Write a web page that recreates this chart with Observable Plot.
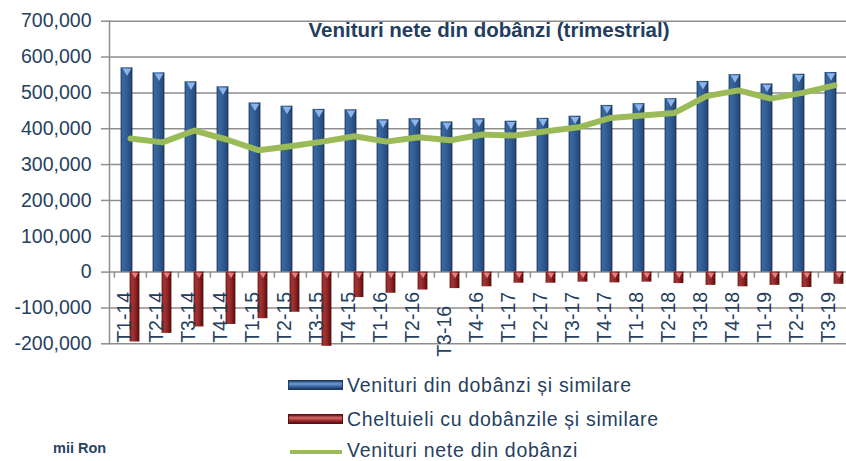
<!DOCTYPE html>
<html>
<head>
<meta charset="utf-8">
<script src="https://cdn.jsdelivr.net/npm/d3@7"></script>
<script src="https://cdn.jsdelivr.net/npm/@observablehq/plot@0.6"></script>
<style>
  html, body { margin: 0; padding: 0; background: #fff; overflow: hidden; }
  #wrap { position: relative; width: 846px; height: 461px; font-family: "Liberation Sans", Arial, sans-serif; color: #263f5f; }
  #chart { position: absolute; left: 0; top: 0; }
  .lg-row { position: absolute; left: 288px; height: 20px; }
  .sw { position: absolute; left: 0; width: 55px; }
  .lg-text { position: absolute; left: 59px; white-space: nowrap; font-size: 19.5px; line-height: 1; letter-spacing: 0.7px; color: #263f5f; }
  #unit { position: absolute; left: 53px; top: 441px; font-size: 14.5px; font-weight: bold; line-height: 1; color: #2a4364; }
</style>
</head>
<body>
<div id="wrap">
  <div id="chart"></div>
  <div class="lg-row" style="top:376px">
    <div class="sw" style="top:4px;height:10px;background:linear-gradient(to bottom,#24466f 0%,#6f9ad3 35%,#3f6ca5 65%,#1b3860 100%);border:1px solid #1d3a60;box-sizing:border-box"></div>
    <div class="lg-text" style="top:0">Venituri din dobânzi și similare</div>
  </div>
  <div class="lg-row" style="top:409.5px">
    <div class="sw" style="top:4px;height:10px;background:linear-gradient(to bottom,#6a1414 0%,#d46a6a 35%,#a83232 65%,#561010 100%);border:1px solid #5a1010;box-sizing:border-box"></div>
    <div class="lg-text" style="top:0">Cheltuieli cu dobânzile și similare</div>
  </div>
  <div class="lg-row" style="top:441px">
    <div class="sw" style="top:9px;height:4px;left:2px;width:52px;background:#9bbb59"></div>
    <div class="lg-text" style="top:0">Venituri nete din dobânzi</div>
  </div>
  <div id="unit">mii Ron</div>
</div>
<script>
const categories = ["T1-14","T2-14","T3-14","T4-14","T1-15","T2-15","T3-15","T4-15",
  "T1-16","T2-16","T3-16","T4-16","T1-17","T2-17","T3-17","T4-17",
  "T1-18","T2-18","T3-18","T4-18","T1-19","T2-19","T3-19"];
const venituri = [570000,556000,531000,517000,472000,463000,454000,453000,
  425000,428000,419000,428000,421000,429000,435000,465000,
  470000,484000,532000,551000,525000,552000,557000];
const cheltuieli = [-195000,-171000,-153000,-146000,-130000,-112000,-207000,-71000,
  -59000,-50000,-46000,-41000,-31000,-31000,-28000,-30000,
  -28000,-32000,-37000,-41000,-37000,-43000,-34000];
const nete = [373000,362000,395000,370000,340000,351000,364000,379000,
  364000,376000,368000,384000,381000,393000,404000,430000,
  437000,444000,491000,507000,484000,500000,521000];
const yTicks = [-200000,-100000,0,100000,200000,300000,400000,500000,600000,700000];
const title = "Venituri nete din dobânzi (trimestrial)";

const data = categories.map((c, i) => ({cat: c, inc: venituri[i], exp: cheltuieli[i], net: nete[i]}));

const textColor = "#263f5f";
const gridColor = "#8e8e8e";
const fmt = d => d3.format(",")(d).replace("\u2212", "-");

const svg = Plot.plot({
  width: 846,
  height: 362,
  marginLeft: 109,
  marginRight: 0,
  marginTop: 20.7,
  marginBottom: 18.7,
  style: {fontFamily: "'Liberation Sans', Arial, sans-serif", background: "white", overflow: "hidden"},
  x: {domain: categories, range: [110.5, 852.5], padding: 0, axis: null},
  y: {domain: [-200000, 700000], range: [343.3, 20.7], axis: null},
  marks: [
    Plot.ruleY(yTicks, {stroke: gridColor, strokeWidth: 1.5}),
    Plot.frame({anchor: "left", stroke: gridColor, strokeWidth: 1.5}),
    Plot.axisY({ticks: yTicks, tickSize: 8, tickPadding: 10, tickFormat: fmt,
      color: textColor, stroke: gridColor, strokeWidth: 1.5, fontSize: 19.5, ariaLabel: "yaxis"}),
    Plot.ruleX(data, {x: "cat", y1: 0, y2: -17000, dx: -16.13, stroke: gridColor, strokeWidth: 1.5}),
    Plot.barY(data, {x: "cat", y1: 0, y2: "inc", fill: "url(#gBlue)", insetLeft: 6.6, insetRight: 13.6}),
    Plot.dot(data, {x: "cat", y: "inc", symbol: "triangle", rotate: 180, r: 3.2, fill: "#8db4e8", stroke: "none", dx: -3.5, dy: 3.2}),
    Plot.barY(data, {x: "cat", y1: 0, y2: "exp", fill: "url(#gRed)", insetLeft: 15.6, insetRight: 6.6}),
    Plot.dot(data, {x: "cat", y: 0, symbol: "triangle", rotate: 180, r: 2.4, fill: "#e08080", stroke: "none", dx: 4.5, dy: 2.4}),
    Plot.lineY(data, {x: "cat", y: "net", stroke: "#9bbb59", strokeWidth: 6, strokeLinejoin: "round"}),
    Plot.text(categories, {x: d => d, text: d => d, frameAnchor: "bottom", rotate: -90, textAnchor: "start",
      dy: -1, fill: textColor, fontSize: 19.5, filter: d => d !== "T3-16", ariaLabel: "xlabels"}),
    Plot.text(categories, {x: d => d, text: d => d, frameAnchor: "bottom", rotate: -90, textAnchor: "start",
      dy: 13, fill: textColor, fontSize: 19.5, filter: d => d === "T3-16", ariaLabel: "xlabels"}),
    Plot.text([title], {frameAnchor: "top", dx: 11, dy: 16, lineAnchor: "bottom", fontWeight: "bold",
      fontSize: 20.5, fill: "#233d5e", ariaLabel: "title"})
  ]
});

d3.select(svg).insert("defs", ":first-child").html(`
  <linearGradient id="gBlue" x1="0" x2="1" y1="0" y2="0">
    <stop offset="0" stop-color="#1e3c64"/>
    <stop offset="0.18" stop-color="#3a69a2"/>
    <stop offset="0.55" stop-color="#2f5b8f"/>
    <stop offset="0.85" stop-color="#264c7b"/>
    <stop offset="1" stop-color="#14294a"/>
  </linearGradient>
  <linearGradient id="gRed" x1="0" x2="1" y1="0" y2="0">
    <stop offset="0" stop-color="#6a1616"/>
    <stop offset="0.25" stop-color="#a83434"/>
    <stop offset="0.6" stop-color="#8e2424"/>
    <stop offset="1" stop-color="#4e0c0c"/>
  </linearGradient>`);
d3.select(svg).selectAll('g[aria-label="yaxis"] text').style("letter-spacing", "1px");
d3.select(svg).selectAll('g[aria-label="xlabels"] text').style("letter-spacing", "0.8px");
d3.select(svg).selectAll('g[aria-label="title"] text').style("letter-spacing", "0.55px");

document.getElementById("chart").appendChild(svg);
</script>
</body>
</html>
